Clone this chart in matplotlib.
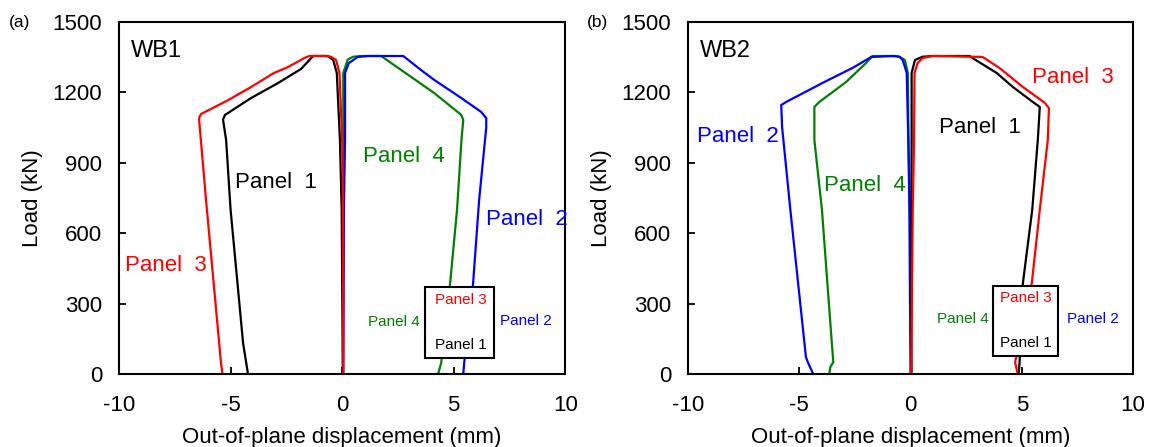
import matplotlib
matplotlib.use("Agg")
import matplotlib.pyplot as plt
from matplotlib.patches import Rectangle

plt.rcParams["font.family"] = ["Liberation Sans", "DejaVu Sans"]
plt.rcParams["axes.unicode_minus"] = False

# ---- WB1 : load vs out-of-plane displacement ----
wb1_p1_x = [0.03, -0.02, -0.1, -0.24, -0.4, -0.64, -1.3, -1.84, -2.87, -4.08, -5.25, -5.34, -5.2, -5.0, -4.44, -4.22]
wb1_p1_y = [0, 700, 1000, 1283, 1338, 1355, 1355, 1300, 1240, 1176, 1104, 1085, 997, 700, 132, 0]

wb1_p2_x = [0.05, 0.08, 0.13, 0.13, 0.3, 0.7, 1.16, 2.74, 3.54, 4.13, 5.34, 6.23, 6.46, 6.46, 6.14, 5.87, 5.47, 5.43]
wb1_p2_y = [0, 700, 1000, 1283, 1325, 1351, 1355, 1355, 1295, 1253, 1176, 1117, 1090, 1052, 741, 387, 47, 0]

wb1_p3_x = [0.05, 0.04, 0.0, -0.12, -0.27, -0.5, -0.8, -1.48, -1.70, -2.42, -3.05, -4.08, -5.11, -6.32, -6.40, -6.41, -6.38, -6.10, -5.43, -5.36]
wb1_p3_y = [0, 700, 1000, 1283, 1338, 1352, 1355, 1355, 1346, 1308, 1283, 1223, 1167, 1108, 1095, 1082, 1050, 741, 47, 0]

wb1_p4_x = [0.04, 0.05, 0.05, 0.05, 0.25, 0.5, 0.85, 1.75, 2.2, 3.09, 4.13, 5.34, 5.43, 5.35, 5.15, 4.84, 4.44, 4.3]
wb1_p4_y = [0, 700, 1000, 1283, 1340, 1352, 1355, 1355, 1325, 1266, 1197, 1104, 1082, 1000, 700, 387, 47, 0]

# ---- WB2 ----
wb2_p1_x = [0.03, 0.04, 0.05, 0.05, 0.2, 0.54, 0.99, 2.66, 2.79, 3.87, 4.6, 5.5, 5.81, 5.72, 5.47, 5.05, 4.9, 4.86]
wb2_p1_y = [0, 700, 1000, 1283, 1338, 1352, 1355, 1355, 1346, 1283, 1223, 1159, 1138, 997, 700, 387, 47, 0]

wb2_p2_x = [0.0, -0.05, -0.1, -0.17, -0.35, -0.5, -0.8, -1.76, -2.61, -3.96, -5.59, -5.81, -5.77, -5.4, -4.7, -4.6, -4.37]
wb2_p2_y = [0, 700, 1000, 1283, 1338, 1352, 1355, 1351, 1304, 1240, 1159, 1146, 1052, 700, 72, 47, 0]

wb2_p3_x = [0.03, 0.1, 0.16, 0.18, 0.32, 0.54, 0.99, 1.17, 3.24, 4.0, 5.05, 6.04, 6.22, 6.17, 5.81, 5.45, 4.7, 4.82]
wb2_p3_y = [0, 700, 1000, 1283, 1325, 1346, 1355, 1355, 1351, 1304, 1223, 1155, 1133, 997, 700, 387, 50, 0]

wb2_p4_x = [0.05, -0.03, -0.09, -0.12, -0.25, -0.5, -0.65, -1.71, -2.0, -2.9, -4.1, -4.32, -4.32, -3.98, -3.57, -3.47, -3.6, -3.65]
wb2_p4_y = [0, 700, 1000, 1283, 1338, 1352, 1355, 1355, 1325, 1244, 1159, 1138, 997, 700, 175, 51, 30, 0]

x_ticks = [-10, -5, 0, 5, 10]
y_ticks = [0, 300, 600, 900, 1200, 1500]

colors = {"Panel 1": "black", "Panel 2": "blue", "Panel 3": "red", "Panel 4": "green"}

fig = plt.figure(figsize=(11.59, 4.47), dpi=100)
axA = fig.add_axes([0.1027, 0.1633, 0.385, 0.7875])
axB = fig.add_axes([0.5936, 0.1633, 0.384, 0.7875])


def setup(ax, name):
    ax.set_xlim(-10, 10)
    ax.set_ylim(0, 1500)
    ax.set_xticks(x_ticks)
    ax.set_yticks(y_ticks)
    ax.tick_params(direction="in", length=5, width=1.3, labelsize=16)
    ax.tick_params(axis="x", pad=15)
    ax.tick_params(axis="y", pad=12)
    for s in ax.spines.values():
        s.set_linewidth(1.5)
    ax.set_xlabel("Out-of-plane displacement (mm)", fontsize=16, labelpad=8)
    ax.set_ylabel("Load (kN)", fontsize=16, labelpad=7)
    ax.text(-9.45, 1375, name, fontsize=17, ha="left", va="center")


def curves(ax, series):
    for label, xs, ys in series:
        ax.plot(xs, ys, color=colors[label], lw=1.6, solid_joinstyle="round")


def key_box(ax, x0, x1, y0, y1, small):
    ax.add_patch(Rectangle((x0, y0), x1 - x0, y1 - y0, facecolor="white",
                           edgecolor="black", lw=1.5, zorder=5))
    for label, (tx, ty) in small.items():
        ax.text(tx, ty, label, color=colors[label], fontsize=11,
                ha="center", va="center", zorder=6)


setup(axA, "WB1")
curves(axA, [("Panel 1", wb1_p1_x, wb1_p1_y), ("Panel 4", wb1_p4_x, wb1_p4_y),
             ("Panel 2", wb1_p2_x, wb1_p2_y), ("Panel 3", wb1_p3_x, wb1_p3_y)])
key_box(axA, 3.72, 6.82, 68, 371,
        {"Panel 3": (5.3, 315), "Panel 1": (5.3, 124),
         "Panel 4": (2.33, 222), "Panel 2": (8.25, 226)})
axA.text(-2.96, 818, "Panel  1", color="black", fontsize=16, ha="center", va="center")
axA.text(2.78, 925, "Panel  4", color="green", fontsize=16, ha="center", va="center")
axA.text(8.3, 660, "Panel  2", color="blue", fontsize=16, ha="center", va="center")
axA.text(-7.9, 464, "Panel  3", color="red", fontsize=16, ha="center", va="center")

setup(axB, "WB2")
curves(axB, [("Panel 4", wb2_p4_x, wb2_p4_y), ("Panel 2", wb2_p2_x, wb2_p2_y),
             ("Panel 1", wb2_p1_x, wb2_p1_y), ("Panel 3", wb2_p3_x, wb2_p3_y)])
key_box(axB, 3.69, 6.62, 77, 375,
        {"Panel 3": (5.2, 323), "Panel 1": (5.2, 132),
         "Panel 4": (2.34, 234), "Panel 2": (8.2, 234)})
axB.text(3.1, 1052, "Panel  1", color="black", fontsize=16, ha="center", va="center")
axB.text(7.3, 1265, "Panel  3", color="red", fontsize=16, ha="center", va="center")
axB.text(-7.75, 1010, "Panel  2", color="blue", fontsize=16, ha="center", va="center")
axB.text(-2.07, 805, "Panel  4", color="green", fontsize=16, ha="center", va="center")

fig.text(20 / 1159, 1 - 22 / 447, "(a)", fontsize=12.5, ha="center", va="center")
fig.text(598 / 1159, 1 - 22 / 447, "(b)", fontsize=12.5, ha="center", va="center")

fig.savefig("out.png", dpi=100)
